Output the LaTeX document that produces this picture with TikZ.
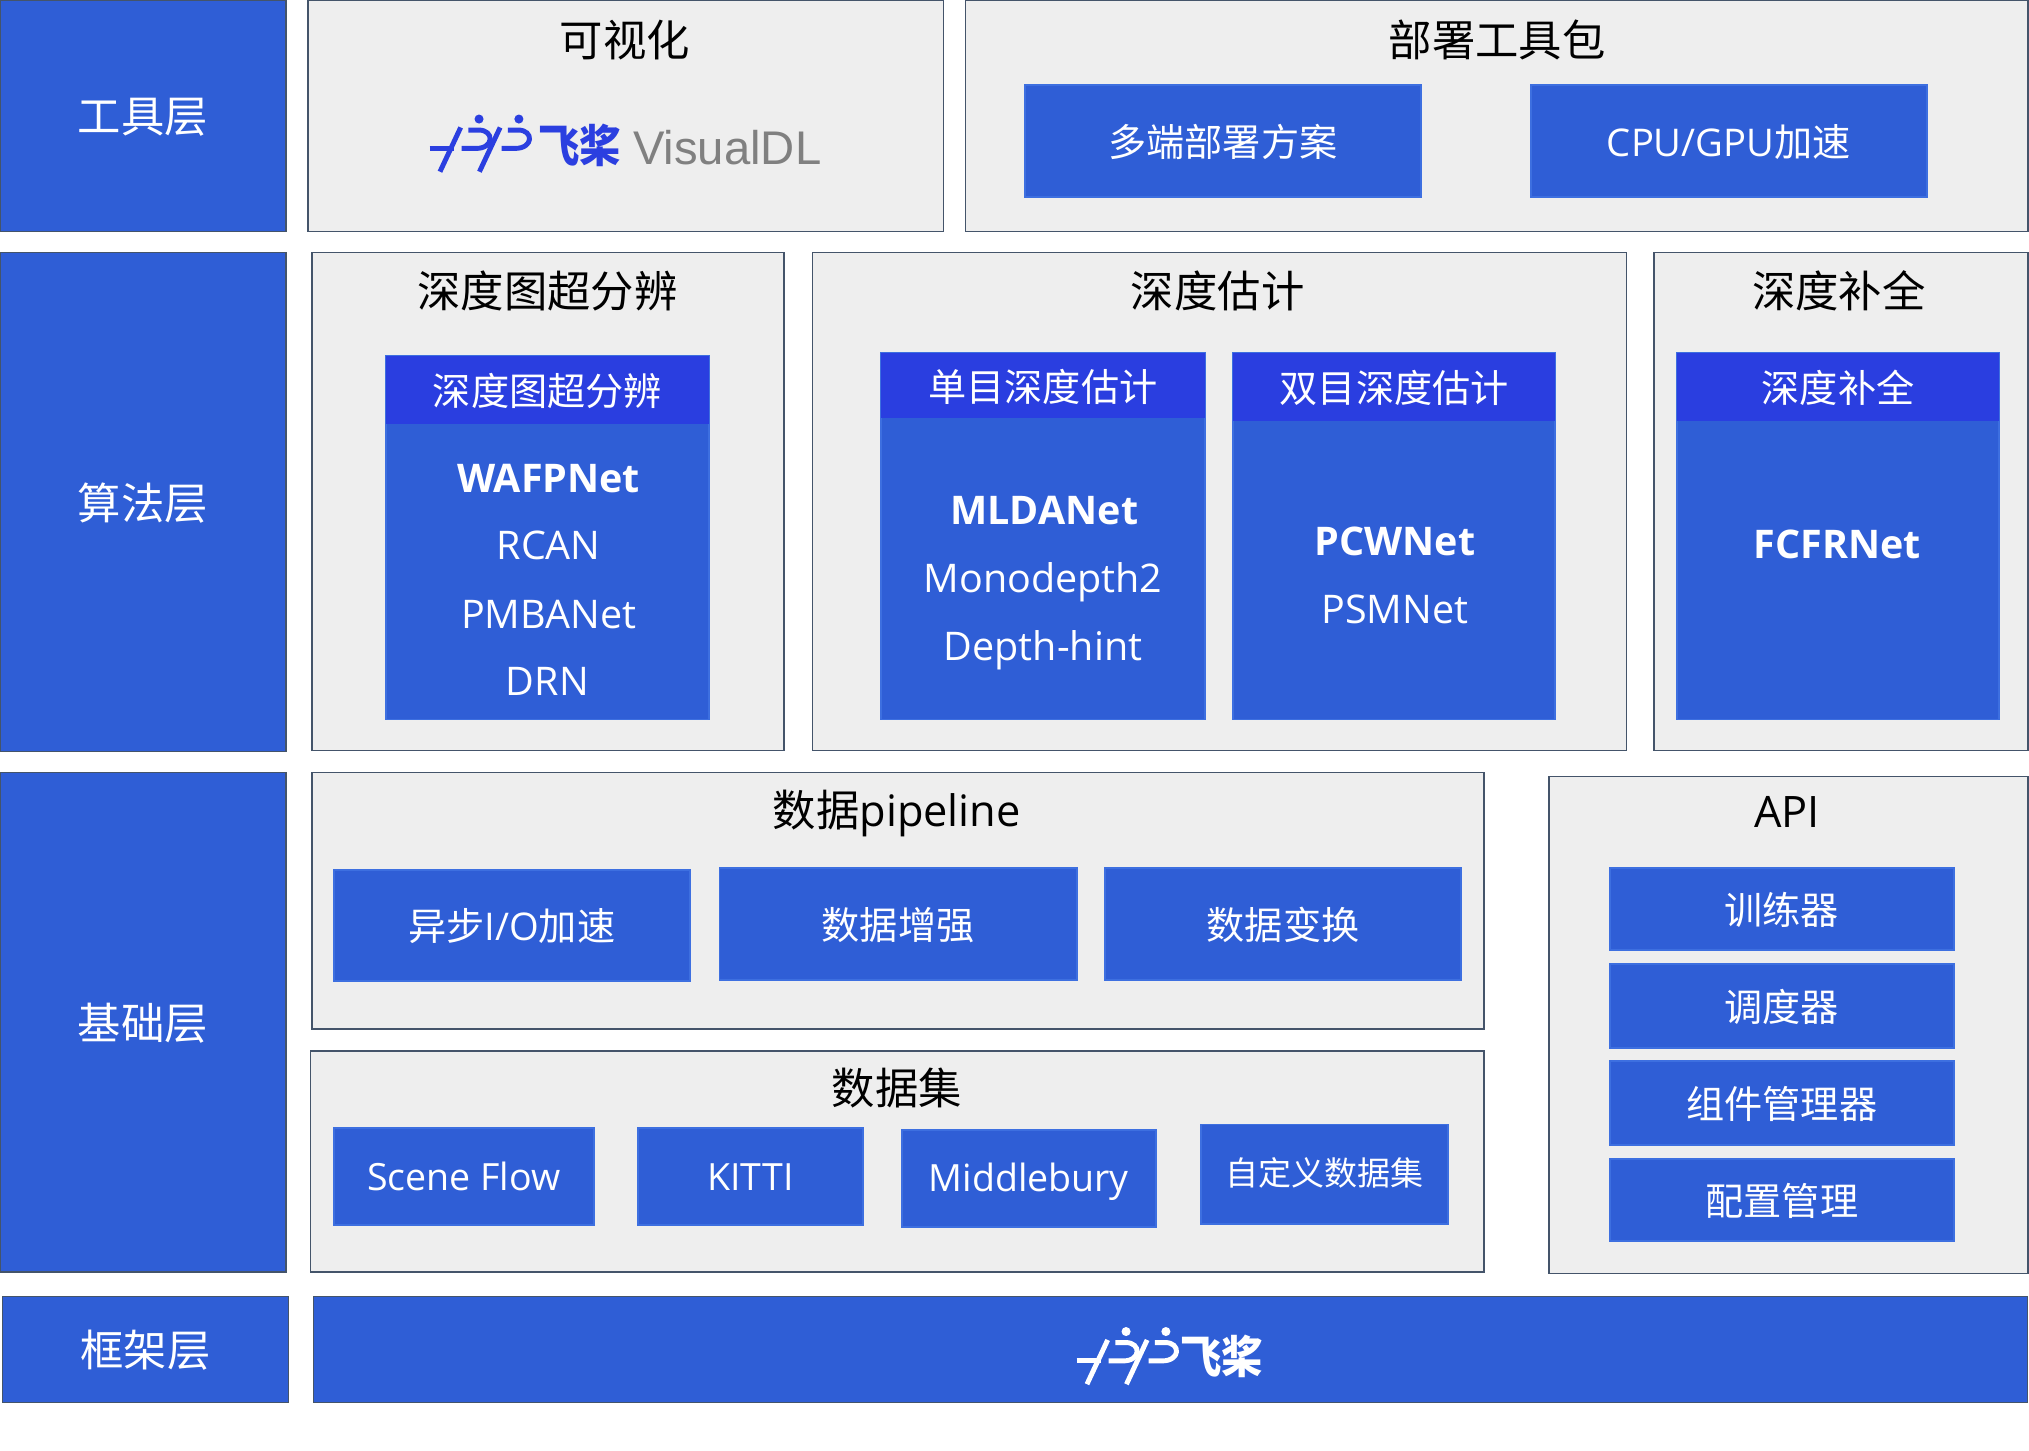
\documentclass[tikz,border=0pt]{standalone}
\usepackage{fontspec}
\setmainfont{Open Sans}
\newfontfamily\cjk{Noto Sans CJK SC}
\newfontfamily\logofont{Liberation Sans}
\definecolor{layerblue}{HTML}{2F5ED6}
\definecolor{headblue}{HTML}{2A3EE0}
\definecolor{logoblue}{HTML}{2B3FE0}
\definecolor{panelgray}{HTML}{EEEEEE}
\definecolor{edgegray}{HTML}{44546A}
\definecolor{edgeblue}{HTML}{3D6FE0}
\tikzset{
    panel/.style={draw=edgegray, fill=panelgray, line width=1.2pt, inner sep=0pt, outer sep=0pt},
    layerbox/.style={draw=edgegray, fill=layerblue, line width=1pt, inner sep=0pt, outer sep=0pt, text=white, text height=26.5pt, text depth=0pt, font=\fontsize{33.5}{36}\selectfont\cjk},
    bluebox/.style={draw=edgeblue, fill=layerblue, line width=1.5pt, inner sep=0pt, outer sep=0pt, text=white, text height=24pt, text depth=0pt, font=\fontsize{29.5}{32}\selectfont\cjk},
    latinbox/.style={bluebox, text height=21pt, font=\fontsize{29}{32}\selectfont},
    headbox/.style={fill=headblue, inner sep=0pt, outer sep=0pt, text=white, text height=24pt, text depth=0pt, font=\fontsize{29.5}{32}\selectfont\cjk},
    titletext/.style={inner sep=0pt, text=black, text height=25pt, text depth=0pt, font=\fontsize{33.5}{36}\selectfont\cjk},
    modeltext/.style={inner sep=0pt, text=white, text height=23pt, text depth=0pt, font=\fontsize{30.5}{33}\selectfont},
    modelbold/.style={modeltext, font=\fontsize{30.5}{33}\selectfont\bfseries},
    pics/paddlelogo/.style={code={
        \draw[#1, line width=3.8pt] (0,26.7) -- (19,26.7);
        \draw[#1, line width=3.8pt] (8,44.7) -- (24,10.5);
        \draw[#1, line width=3.8pt] (38.5,44.7) -- (54.5,10.5);
        \draw[#1, line width=3.8pt] (30,12.5) -- (38,12.5) .. controls (50,12.5) and (50,26.7) .. (36,26.7) -- (24.8,26.7);
        \draw[#1, line width=3.8pt] (60.5,12.5) -- (68.5,12.5) .. controls (80.5,12.5) and (80.5,26.7) .. (66,26.7) -- (55.7,26.7);
        \fill[#1] (38.2,4) circle (3.5);
        \fill[#1] (69,4) circle (3.5);
    }},
}
\newcommand{\lat}[1]{{\rmfamily #1}}
\begin{document}
\begin{tikzpicture}[x=1pt, y=-1pt]
    \useasboundingbox (0,0) rectangle (1568,1120.6);

    % layers on the left
    \foreach \name/\xa/\ya/\xb/\yb/\txt in {
        tool/0/0/221/179/工具层,
        algo/0/195/221/581/算法层,
        base/0/597/221/983/基础层,
        frame/2/1002/223/1084/框架层} {
        \node[layerbox, minimum width={(\xb-\xa)*1pt}, minimum height={(\yb-\ya)*1pt}] (\name) at ({(\xa+\xb)/2},{(\ya+\yb)/2}) {\txt};};

    % gray panels
    \foreach \name/\xa/\ya/\xb/\yb in {
        vis/238/0/729/179,
        deploy/746/0/1567/179,
        super/241/195/606/580,
        estim/628/195/1257/580,
        compl/1278/195/1567/580,
        pipe/241/597/1147/795,
        dset/240/812/1147/983,
        api/1197/600/1567/984} {
        \node[panel, minimum width={(\xb-\xa)*1pt}, minimum height={(\yb-\ya)*1pt}] (\name) at ({(\xa+\xb)/2},{(\ya+\yb)/2}) {};};

    % panel titles
    \node[titletext] (visT) at (483,31) {可视化};
    \node[titletext] (deployT) at (1157,31) {部署工具包};
    \node[titletext] (superT) at (423,225) {深度图超分辨};
    \node[titletext] (estimT) at (941,225) {深度估计};
    \node[titletext] (complT) at (1421,225) {深度补全};
    \node[titletext] (pipeT) at (693,626) {数据\lat{pipeline}};
    \node[titletext] (dsetT) at (693,841) {数据集};
    \node[titletext] (apiT) at (1381,627) {\lat{API}};

    % blue boxes
    \foreach \name/\xa/\ya/\xb/\yb/\txt in {
        multi/792/66/1098/152/多端部署方案,
        accel/1183/66/1489/152/\lat{CPU/GPU}加速,
        async/258/672/533/758/异步\lat{I/O}加速,
        augm/556/671/832/757/数据增强,
        trans/854/671/1129/757/数据变换,
        train/1244/671/1510/734/训练器,
        sched/1244/745/1510/810/调度器,
        comp/1244/820/1510/885/组件管理器,
        conf/1244/896/1510/959/配置管理} {
        \node[bluebox, minimum width={(\xb-\xa)*1pt}, minimum height={(\yb-\ya)*1pt}] (\name) at ({(\xa+\xb)/2},{(\ya+\yb)/2}) {\txt};};
    \foreach \name/\xa/\ya/\xb/\yb/\txt in {
        scene/258/872/459/947/Scene Flow,
        kitti/493/872/667/947/KITTI,
        middle/697/873/893/948/Middlebury} {
        \node[latinbox, minimum width={(\xb-\xa)*1pt}, minimum height={(\yb-\ya)*1pt}] (\name) at ({(\xa+\xb)/2},{(\ya+\yb)/2}) {\txt};};
    \node[bluebox, minimum width=191pt, minimum height=77pt, text height=18pt, font=\fontsize{25.5}{28}\selectfont\cjk] (custom) at (1023.5,907.5) {自定义数据集};

    % model columns with a head
    \foreach \name/\xa/\ya/\xb/\yb/\yh/\txt in {
        superA/298/275/548/556/328/深度图超分辨,
        mono/681/273/931/556/323/单目深度估计,
        stereo/953/273/1202/556/325/双目深度估计,
        complA/1296/273/1545/556/325/深度补全} {
        \node[bluebox, minimum width={(\xb-\xa)*1pt}, minimum height={(\yb-\ya)*1pt}] (\name) at ({(\xa+\xb)/2},{(\ya+\yb)/2}) {};
        \node[headbox, minimum width={(\xb-\xa)*1pt}, minimum height={(\yh-\ya)*1pt}] (\name H) at ({(\xa+\xb)/2},{(\ya+\yh)/2}) {\txt};};

    % model names
    \node[modelbold] (wafp) at (424,369) {WAFPNet};
    \node[modeltext] (rcan) at (424,421) {RCAN};
    \node[modeltext] (pmba) at (424,474) {PMBANet};
    \node[modeltext] (drn) at (423,526) {DRN};
    \node[modelbold] (mlda) at (807,394) {MLDANet};
    \node[modeltext] (mdep) at (806,446) {Monodepth2};
    \node[modeltext] (dhint) at (806,499) {Depth-hint};
    \node[modelbold] (pcw) at (1078,418) {PCWNet};
    \node[modeltext] (psm) at (1078,470) {PSMNet};
    \node[modelbold] (fcfr) at (1420,420) {FCFRNet};

    % logos
    \pic at (332,88) {paddlelogo=logoblue};
    \node[inner sep=0pt, text=logoblue, font=\fontsize{32}{34}\selectfont\cjk\bfseries] (visF) at (448,112) {\scalebox{1}[1.08]{飞桨}};
    \node[inner sep=0pt, text=gray, font=\fontsize{36.5}{38}\selectfont\logofont] (visD) at (562,114) {VisualDL};

    \node[layerbox, minimum width=1325pt, minimum height=82pt] (paddle) at (904.5,1043) {};
    \pic at (832,1025) {paddlelogo=white};
    \node[inner sep=0pt, text=white, font=\fontsize{32}{34}\selectfont\cjk\bfseries] (paddleF) at (944,1048) {\scalebox{1}[1.08]{飞桨}};
\end{tikzpicture}
\end{document}
